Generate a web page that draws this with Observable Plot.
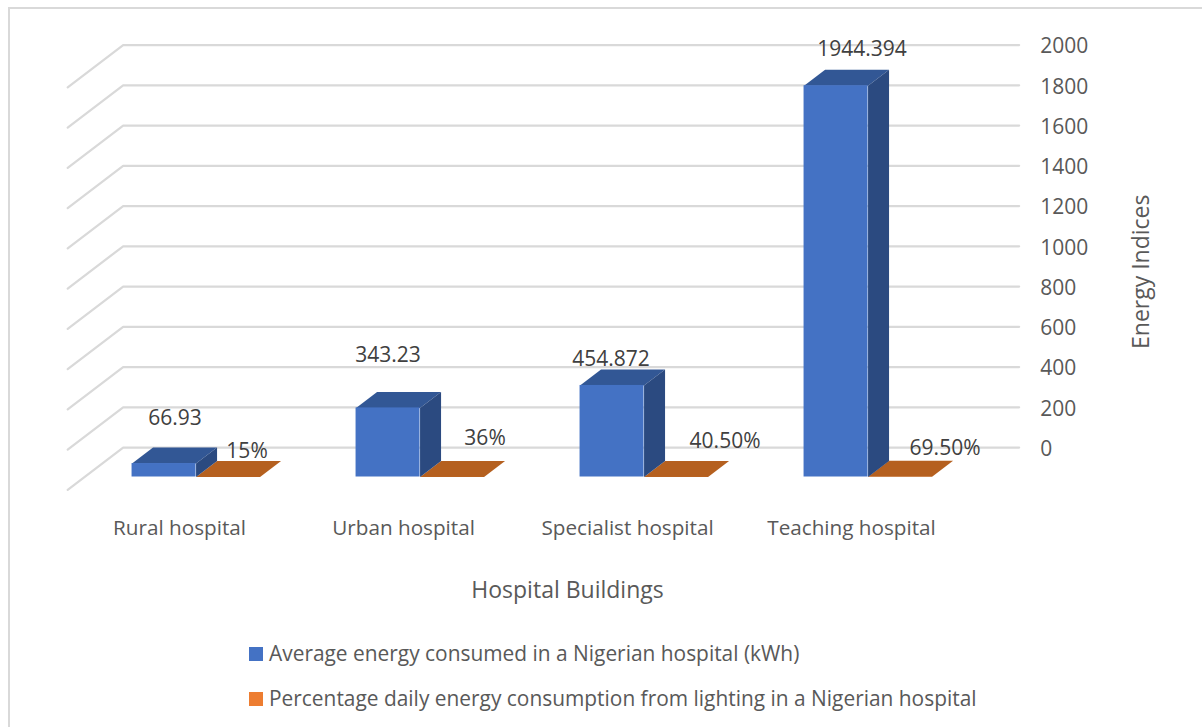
<!DOCTYPE html>
<html>
<head>
<meta charset="utf-8">
<script src="https://cdn.jsdelivr.net/npm/d3@7"></script>
<script src="https://cdn.jsdelivr.net/npm/@observablehq/plot@0.6"></script>
<style>
  html, body { margin: 0; padding: 0; background: #fff; }
  body { width: 1202px; height: 727px; overflow: hidden; position: relative;
         font-family: "Open Sans", sans-serif; }
  body::before { content: ""; position: absolute; left: 8px; top: 7px; right: 0; bottom: 0;
                 border-left: 2.5px solid #d9d9d9; border-top: 2.5px solid #d9d9d9; pointer-events: none; }
  #chart svg { display: block; background: transparent; }
  #legend { padding-left: 249px; color: #595959; font-size: 20.9px; padding-top: 1px; }
  .row { height: 45px; line-height: 45px; display: flex; align-items: center; white-space: nowrap; }
  .sw { width: 14px; height: 14px; margin-right: 6px; flex: none; }
</style>
</head>
<body>
<div id="chart"></div>
<div id="legend"></div>
<script>
const categories = ["Rural hospital", "Urban hospital", "Specialist hospital", "Teaching hospital"];
const energy = [66.93, 343.23, 454.872, 1944.394];
const energyLabels = ["66.93", "343.23", "454.872", "1944.394"];
const lighting = [0.15, 0.36, 0.405, 0.695];
const lightingLabels = ["15%", "36%", "40.50%", "69.50%"];
const yTicks = [0, 200, 400, 600, 800, 1000, 1200, 1400, 1600, 1800, 2000];
const seriesNames = [
  "Average energy consumed in a Nigerian hospital (kWh)",
  "Percentage daily energy consumption from lighting in a Nigerian hospital"
];
const seriesColors = ["#4472C4", "#ED7D31"];

// oblique projection of the 3-D chart box, in scale units
const barWidth = 0.2857, depthX = 0.09375, depthY = 79.5;
const wallBack = 1.84, wallFront = -0.8;
const project = (u, v, w) => ({x: u + w * depthX, y: v + w * depthY});

const slots = categories.map((c, i) => i + 0.498);

function box(u0, u1, v) {
  return {
    top: [project(u0, v, 0), project(u1, v, 0), project(u1, v, 1), project(u0, v, 1)],
    side: [project(u1, 0, 0), project(u1, v, 0), project(u1, v, 1), project(u1, 0, 1)]
  };
}
const polys = (values, offset, face) =>
  values.flatMap((v, i) => {
    const u0 = slots[i] + offset;
    return box(u0, u0 + barWidth, v)[face].map(p => ({...p, id: i}));
  });
const poly = (pts, fill) => Plot.line(pts, {x: "x", y: "y", z: "id", fill, curve: "linear"});

const gridPts = yTicks.flatMap(t => [
  {...project(0, t, wallFront), id: t},
  {...project(0, t, wallBack), id: t},
  {...project(4, t, wallBack), id: t}
]);

const tickPts = yTicks.map(t => ({...project(4, t, wallBack), t}));

// hand-placed data labels of the original, in pixels from their bar
const energyNudge = [[11, -45], [0, -52.5], [-1, -26], [26, -36]];
const lightingNudge = [[19, -25.5], [33, -38.5], [49, -35.5], [45, -28.5]];
const textFont = {fontFamily: "Open Sans, sans-serif"};

const marks = [
  Plot.line(gridPts, {x: "x", y: "y", z: "id", stroke: "#d9d9d9", strokeWidth: 2.25, curve: "linear"}),
  Plot.text(tickPts, {x: "x", y: "y", text: d => String(d.t), dx: 21, dy: 1.5, textAnchor: "start",
    fontSize: 21, fill: "#595959", ...textFont}),
  // lighting share
  poly(polys(lighting, 0, "top"), "#B5601F"),
  Plot.rect(lighting, {x1: (d, i) => slots[i], x2: (d, i) => slots[i] + barWidth, y1: 0, y2: d => d,
    fill: "#ED7D31", inset: 0}),
  // energy
  poly(polys(energy, -barWidth, "top"), "#325795"),
  poly(polys(energy, -barWidth, "side"), "#2B4A80"),
  Plot.rect(energy, {x1: (d, i) => slots[i] - barWidth, x2: (d, i) => slots[i], y1: 0, y2: d => d,
    fill: "#4472C4", inset: 0}),
  ...energy.map((v, i) => Plot.text([v], {
    x: () => slots[i] - barWidth / 2, y: d => d, text: () => energyLabels[i],
    dx: energyNudge[i][0], dy: energyNudge[i][1], fontSize: 21, fill: "#404040", ...textFont
  })),
  ...lighting.map((v, i) => Plot.text([v], {
    x: () => slots[i] + barWidth / 2, y: d => d, text: () => lightingLabels[i],
    dx: lightingNudge[i][0], dy: lightingNudge[i][1], fontSize: 21, fill: "#404040", ...textFont
  })),
  Plot.text(categories, {x: (d, i) => slots[i], y: () => 0, text: d => d, dx: -16.5, dy: 51.5,
    fontSize: 20.7, fill: "#595959", ...textFont}),
  Plot.text(["Hospital Buildings"], {x: () => 2, y: () => 0, text: d => d, dx: 35, dy: 114,
    fontSize: 23, fill: "#595959", ...textFont}),
  Plot.text(["Energy Indices"], {x: () => 4, y: () => 1000, text: d => d, dx: 161, dy: -4, rotate: -90,
    fontSize: 23, fill: "#595959", ...textFont})
];

const plot = Plot.plot({
  width: 1202,
  height: 630,
  margin: 0,
  x: {type: "linear", domain: [0, 4], range: [84, 980], axis: null},
  y: {type: "linear", domain: [0, 2000], range: [476.5, 74], axis: null},
  style: {background: "transparent"},
  marks
});
document.getElementById("chart").append(plot);

const legend = d3.select("#legend");
seriesNames.forEach((name, i) => {
  const row = legend.append("div").attr("class", "row");
  row.append("span").attr("class", "sw").style("background", seriesColors[i]);
  row.append("span").text(name);
});
</script>
</body>
</html>
